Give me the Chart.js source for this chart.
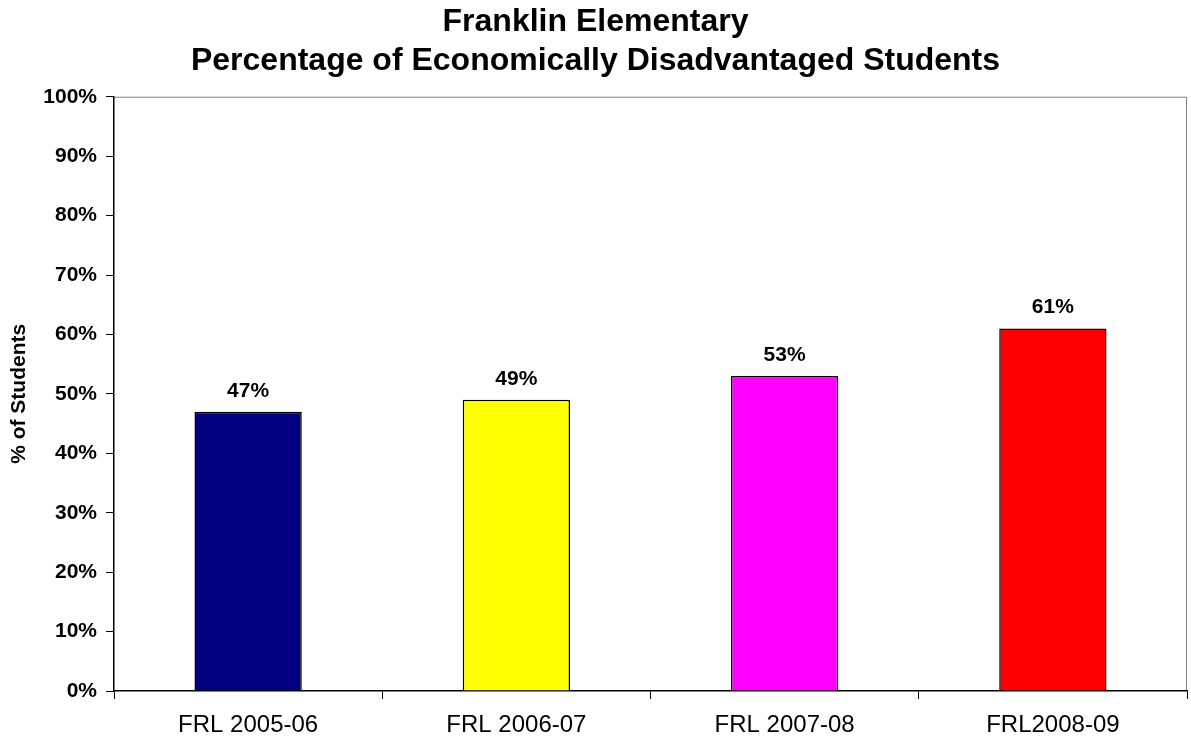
<!DOCTYPE html>
<html>
<head>
<meta charset="utf-8">
<script src="https://cdn.jsdelivr.net/npm/chart.js@4/dist/chart.umd.min.js"></script>
<style>
  html, body { margin: 0; padding: 0; background: #ffffff; }
  #c { display: block; }
</style>
</head>
<body>
<canvas id="c" width="1191" height="742"></canvas>
<script>
const titleLines = ['Franklin Elementary', 'Percentage of Economically Disadvantaged Students'];
const categories = ['FRL 2005-06', 'FRL 2006-07', 'FRL 2007-08', 'FRL2008-09'];
const values = [47, 49, 53, 61];
const barColors = ['#000080', '#FFFF00', '#FF00FF', '#FF0000'];
const yAxisTitle = '% of Students';

const FONT = "'Liberation Sans', Arial, sans-serif";

const plotBorder = {
  id: 'plotBorder',
  beforeDraw(chart) {
    const {ctx, chartArea: a} = chart;
    ctx.save();
    ctx.strokeStyle = '#808080';
    ctx.lineWidth = 1;
    ctx.beginPath();
    ctx.moveTo(a.left, a.top + 0.5);
    ctx.lineTo(a.right - 0.5, a.top + 0.5);
    ctx.lineTo(a.right - 0.5, a.bottom);
    ctx.stroke();
    ctx.restore();
  }
};

const valueLabels = {
  id: 'valueLabels',
  afterDatasetsDraw(chart) {
    const {ctx} = chart;
    const meta = chart.getDatasetMeta(0);
    ctx.save();
    ctx.font = 'bold 21px ' + FONT;
    ctx.fillStyle = '#000';
    ctx.textAlign = 'center';
    ctx.textBaseline = 'alphabetic';
    meta.data.forEach((el, i) => {
      ctx.fillText(values[i] + '%', el.x, el.y - 15);
    });
    ctx.restore();
  }
};

new Chart(document.getElementById('c'), {
  type: 'bar',
  data: {
    labels: categories,
    datasets: [{
      data: values,
      backgroundColor: barColors,
      borderColor: '#000000',
      borderWidth: 1.5,
      borderSkipped: 'bottom',
      categoryPercentage: 1.0,
      barPercentage: 0.4
    }]
  },
  options: {
    responsive: false,
    animation: false,
    devicePixelRatio: 1,
    layout: { padding: { left: 4, right: 4, top: 0, bottom: 0 } },
    plugins: {
      legend: { display: false },
      tooltip: { enabled: false },
      title: {
        display: true,
        text: titleLines,
        color: '#000',
        font: { family: FONT, size: 32, weight: 'bold', lineHeight: 1.23 },
        padding: { top: 2, bottom: 16 }
      }
    },
    scales: {
      x: {
        offset: true,
        grid: { display: true, offset: true, drawOnChartArea: false, drawTicks: true, tickLength: 8, color: '#000', lineWidth: 1 },
        border: { display: true, color: '#000', width: 1.5 },
        ticks: { color: '#000', font: { family: FONT, size: 24 }, padding: 12, maxRotation: 0, autoSkip: false },
        afterFit(scale) { scale.height = 51; }
      },
      y: {
        min: 0,
        max: 100,
        title: {
          display: true,
          text: yAxisTitle,
          color: '#000',
          font: { family: FONT, size: 21, weight: 'bold', lineHeight: 1.2 },
          padding: { top: 3, bottom: 0 }
        },
        grid: { display: true, drawOnChartArea: false, drawTicks: true, tickLength: 8, color: '#000', lineWidth: 1 },
        border: { display: true, color: '#000', width: 1.5 },
        ticks: {
          stepSize: 10,
          color: '#000',
          padding: 9,
          font: { family: FONT, size: 21, weight: 'bold' },
          callback: (v) => v + '%'
        },
        afterFit(scale) { scale.width = 110; }
      }
    }
  },
  plugins: [plotBorder, valueLabels]
});
</script>
</body>
</html>
